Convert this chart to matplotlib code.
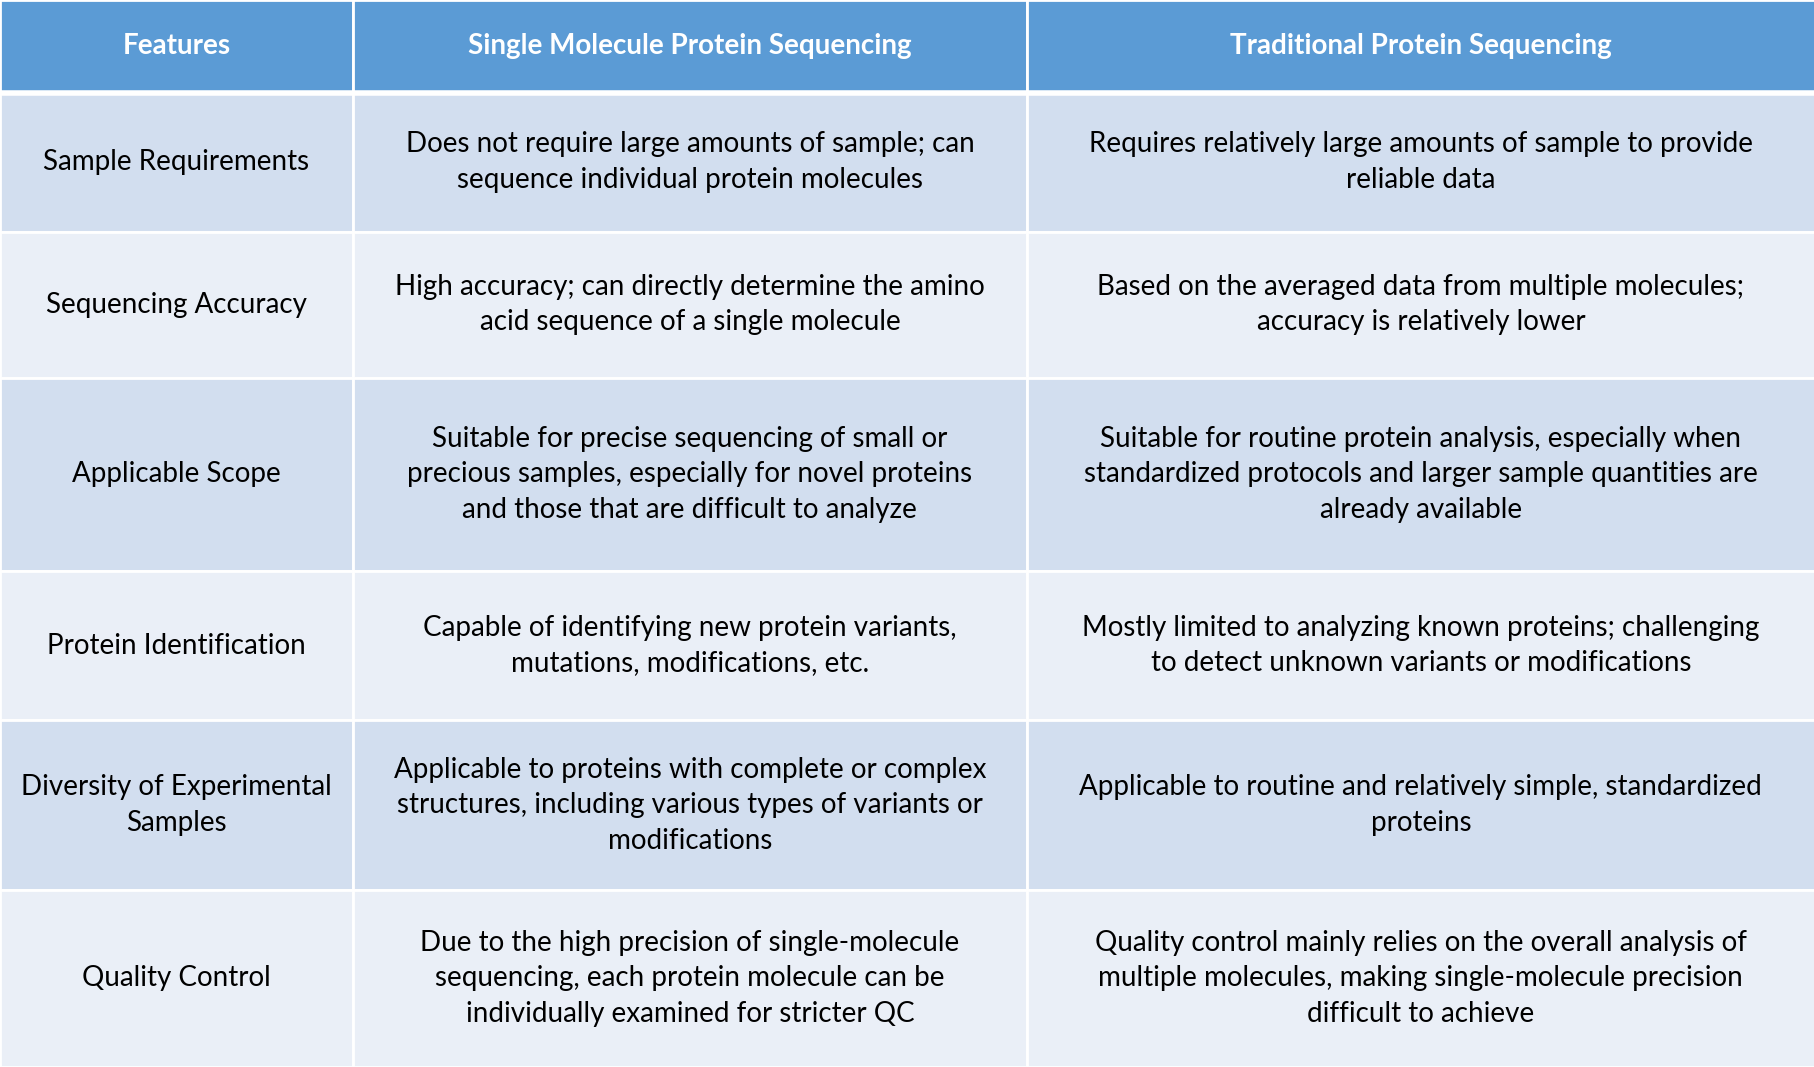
import matplotlib.pyplot as plt
from matplotlib.patches import Rectangle

headers = ["Features", "Single Molecule Protein Sequencing", "Traditional Protein Sequencing"]
features = ["Sample Requirements", "Sequencing Accuracy", "Applicable Scope",
            "Protein Identification", "Diversity of Experimental\nSamples", "Quality Control"]
single_mol = [
    "Does not require large amounts of sample; can\nsequence individual protein molecules",
    "High accuracy; can directly determine the amino\nacid sequence of a single molecule",
    "Suitable for precise sequencing of small or\nprecious samples, especially for novel proteins\nand those that are difficult to analyze",
    "Capable of identifying new protein variants,\nmutations, modifications, etc.",
    "Applicable to proteins with complete or complex\nstructures, including various types of variants or\nmodifications",
    "Due to the high precision of single-molecule\nsequencing, each protein molecule can be\nindividually examined for stricter QC",
]
traditional = [
    "Requires relatively large amounts of sample to provide\nreliable data",
    "Based on the averaged data from multiple molecules;\naccuracy is relatively lower",
    "Suitable for routine protein analysis, especially when\nstandardized protocols and larger sample quantities are\nalready available",
    "Mostly limited to analyzing known proteins; challenging\nto detect unknown variants or modifications",
    "Applicable to routine and relatively simple, standardized\nproteins",
    "Quality control mainly relies on the overall analysis of\nmultiple molecules, making single-molecule precision\ndifficult to achieve",
]

col_edges = [0, 0.1945, 0.5657, 1.0]
row_edges = [0, 0.0869, 0.217, 0.354, 0.535, 0.675, 0.834, 1.0]  # from top

plt.rcParams['font.family'] = 'Lato'
fig = plt.figure(figsize=(18.15, 10.67), dpi=100)
ax = fig.add_axes([0, 0, 1, 1])
ax.set_xlim(0, 1)
ax.set_ylim(1, 0)
ax.axis('off')

rows = [headers] + [list(r) for r in zip(features, single_mol, traditional)]
for i, row in enumerate(rows):
    y0, y1 = row_edges[i], row_edges[i + 1]
    if i == 0:
        fc = '#5B9BD5'
    elif i % 2 == 1:
        fc = '#D2DEEF'
    else:
        fc = '#EAEFF7'
    for j, txt in enumerate(row):
        x0, x1 = col_edges[j], col_edges[j + 1]
        ax.add_patch(Rectangle((x0, y0), x1 - x0, y1 - y0, facecolor=fc,
                               edgecolor='white', linewidth=2))
        ax.text((x0 + x1) / 2, (y0 + y1) / 2, txt, ha='center', va='center',
                fontsize=20, linespacing=1.45,
                color='white' if i == 0 else 'black',
                fontweight='bold' if i == 0 else 'normal')
# thicker white line under header
ax.plot([0, 1], [row_edges[1], row_edges[1]], color='white', linewidth=4)

fig.savefig('out.png', dpi=100)
